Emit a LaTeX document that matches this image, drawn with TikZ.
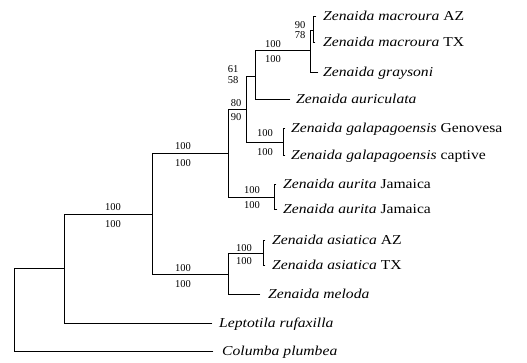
\documentclass[tikz,border=0pt]{standalone}
\usepackage{fontspec}
\setmainfont{Liberation Serif}
\newfontfamily\taxfont{Liberation Serif}[FakeStretch=1.15]
\usetikzlibrary{positioning}
\tikzset{
  branch/.style={line width=0.8pt, line cap=rect},
  taxon/.style={anchor=base west, inner sep=0pt, yshift=-4.5pt,
    font=\taxfont\fontsize{13.6}{16}\selectfont},
  boot/.style={inner sep=0pt, font=\fontsize{10.5}{12}\selectfont},
}
\begin{document}
\begin{tikzpicture}[x=1pt,y=-1pt]
    \useasboundingbox (0,0) rectangle (527,362);
    % internal nodes
    \coordinate (root) at (14,309.5);
    \coordinate (n1) at (64,268);
    \coordinate (n2) at (152,214);
    \coordinate (n3) at (228,274);
    \coordinate (n4) at (263,253);
    \coordinate (n5) at (228,153);
    \coordinate (n6) at (274,197);
    \coordinate (n7) at (246,109);
    \coordinate (n8) at (283,142);
    \coordinate (n9) at (255,76);
    \coordinate (n10) at (310,50);
    \coordinate (n11) at (313,30);
    % tips
    \coordinate (t1) at (316,16);
    \coordinate (t2) at (315,42);
    \coordinate (t3) at (318,72);
    \coordinate (t4) at (290,99);
    \coordinate (t5) at (285,128);
    \coordinate (t6) at (285,155);
    \coordinate (t7) at (276,184);
    \coordinate (t8) at (277,209);
    \coordinate (t9) at (265,240);
    \coordinate (t10) at (265,265);
    \coordinate (t11) at (260,294);
    \coordinate (t12) at (212,323);
    \coordinate (t13) at (213,351);
    % branches
    \draw[branch] (root) |- (n1);
    \draw[branch] (root) |- (t13);
    \draw[branch] (n1) |- (n2);
    \draw[branch] (n1) |- (t12);
    \draw[branch] (n2) |- (n5);
    \draw[branch] (n2) |- (n3);
    \draw[branch] (n3) |- (n4);
    \draw[branch] (n3) |- (t11);
    \draw[branch] (n4) |- (t9);
    \draw[branch] (n4) |- (t10);
    \draw[branch] (n5) |- (n7);
    \draw[branch] (n5) |- (n6);
    \draw[branch] (n6) |- (t7);
    \draw[branch] (n6) |- (t8);
    \draw[branch] (n7) |- (n9);
    \draw[branch] (n7) |- (n8);
    \draw[branch] (n8) |- (t5);
    \draw[branch] (n8) |- (t6);
    \draw[branch] (n9) |- (n10);
    \draw[branch] (n9) |- (t4);
    \draw[branch] (n10) |- (n11);
    \draw[branch] (n10) |- (t3);
    \draw[branch] (n11) |- (t1);
    \draw[branch] (n11) |- (t2);
    % taxa
    \node[taxon] (macAZ) at (323,16) {\textit{Zenaida macroura} AZ};
    \node[taxon] (macTX) at (323,42) {\textit{Zenaida macroura} TX};
    \node[taxon] (gray) at (323,72) {\textit{Zenaida graysoni}};
    \node[taxon] (auri) at (296,99) {\textit{Zenaida auriculata}};
    \node[taxon] (galGen) at (291,128) {\textit{Zenaida galapagoensis} Genovesa};
    \node[taxon] (galCap) at (291,155) {\textit{Zenaida galapagoensis} captive};
    \node[taxon] (aurA) at (283,184) {\textit{Zenaida aurita} Jamaica};
    \node[taxon] (aurB) at (283,209) {\textit{Zenaida aurita} Jamaica};
    \node[taxon] (asiAZ) at (272,240) {\textit{Zenaida asiatica} AZ};
    \node[taxon] (asiTX) at (272,265) {\textit{Zenaida asiatica} TX};
    \node[taxon] (melo) at (268,294) {\textit{Zenaida meloda}};
    \node[taxon] (lept) at (219,323) {\textit{Leptotila rufaxilla}};
    \node[taxon] (colu) at (222,351) {\textit{Columba plumbea}};
    % support values
    \node[boot] (s1a) at (113,207) {100};
    \node[boot] (s1b) at (113,224) {100};
    \node[boot] (s2a) at (183,268) {100};
    \node[boot] (s2b) at (183,284) {100};
    \node[boot] (s3a) at (244,248) {100};
    \node[boot] (s3b) at (244,261) {100};
    \node[boot] (s4a) at (183,146) {100};
    \node[boot] (s4b) at (183,163) {100};
    \node[boot] (s5a) at (252,190) {100};
    \node[boot] (s5b) at (252,205) {100};
    \node[boot] (s6a) at (265,133) {100};
    \node[boot] (s6b) at (265,152) {100};
    \node[boot] (s7a) at (236,103) {80};
    \node[boot] (s7b) at (236,117) {90};
    \node[boot] (s8a) at (233,69) {61};
    \node[boot] (s8b) at (233,80) {58};
    \node[boot] (s9a) at (273,44) {100};
    \node[boot] (s9b) at (273,59) {100};
    \node[boot] (s10a) at (300,25) {90};
    \node[boot] (s10b) at (300,35) {78};
\end{tikzpicture}
\end{document}
